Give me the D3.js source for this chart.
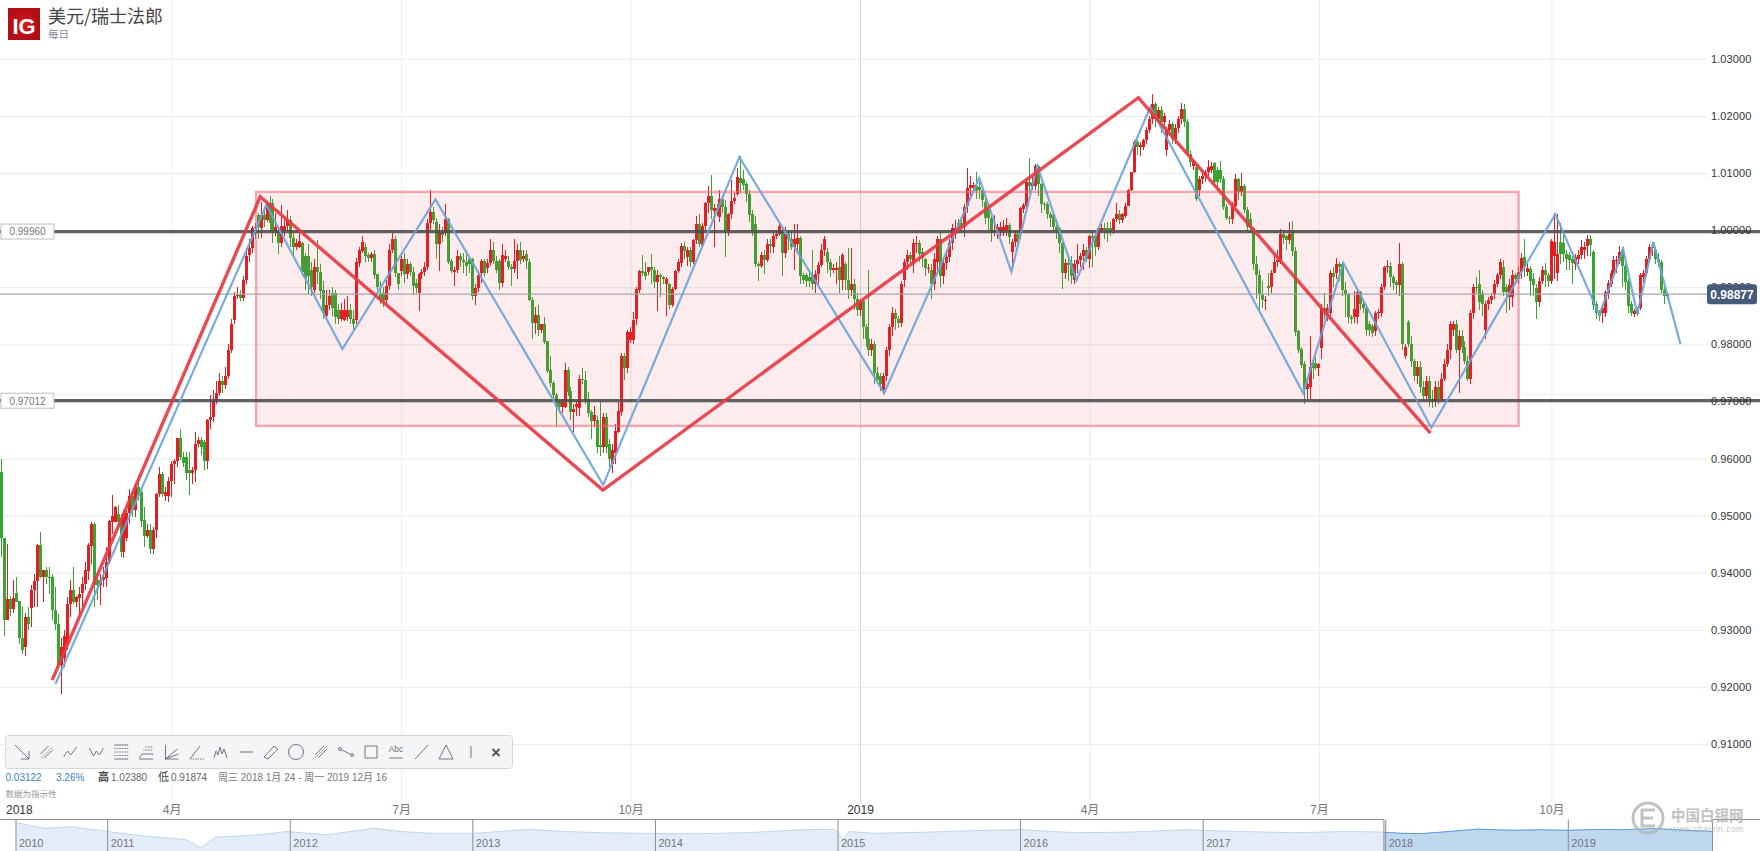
<!DOCTYPE html>
<html>
<head>
<meta charset="utf-8">
<title>美元/瑞士法郎</title>
<script src="https://cdn.jsdelivr.net/npm/d3@7"></script>
<style>
  body { margin: 0; background: #fff; overflow: hidden; }
  text { font-family: "Liberation Sans", "Noto Sans CJK SC", sans-serif; }
  .cjk { font-family: "Noto Sans CJK SC", sans-serif; }
</style>
</head>
<body>
<div id="chart"></div>
<script>
// daily USD/CHF candles, price x 10000 (10 per row)
var opens = [
9577,9461,9317,9354,9337,9364,9350,9285,9270,9322,
9339,9369,9386,9448,9393,9404,9393,9392,9335,9311,
9238,9250,9275,9345,9370,9349,9356,9364,9381,9403,
9447,9485,9387,9378,9387,9391,9419,9489,9489,9502,
9491,9436,9461,9505,9534,9510,9550,9541,9492,9465,
9474,9442,9475,9538,9572,9535,9535,9560,9590,9596,
9636,9603,9603,9579,9574,9579,9626,9633,9629,9596,
9667,9672,9702,9715,9735,9728,9745,9790,9843,9884,
9886,9881,9913,9956,9968,10003,10027,10003,10027,10018,
10047,10047,9999,10000,9977,10001,10007,10018,9986,9970,
9971,9977,9955,9955,9930,9895,9935,9927,9895,9850,
9869,9889,9889,9860,9845,9843,9848,9860,9845,9843,
9942,9964,9970,9956,9952,9958,9923,9889,9889,9877,
9902,9965,9984,9924,9929,9950,9923,9941,9927,9907,
9889,9923,9927,9935,10012,10031,10015,9976,9996,9995,
10019,9946,9927,9930,9955,9948,9945,9949,9949,9885,
9898,9924,9946,9934,9943,9965,9946,9946,9908,9950,
9946,9936,9932,9946,9965,9950,9959,9945,9878,9837,
9851,9825,9836,9806,9755,9733,9711,9699,9690,9690,
9755,9718,9682,9690,9689,9740,9738,9705,9681,9666,
9667,9623,9620,9673,9625,9590,9610,9647,9682,9779,
9759,9807,9808,9844,9895,9928,9927,9927,9935,9930,
9909,9921,9918,9906,9906,9868,9896,9928,9943,9972,
9953,9966,9944,9983,10010,9974,10007,10048,10059,10033,
10039,10023,10054,10041,9998,10028,10051,10064,10091,10090,
10080,10063,10029,10011,9940,9937,9956,9947,9976,9970,
9989,9994,10000,9960,9993,9984,9971,9975,9986,9922,
9922,9918,9921,9905,9923,9939,9966,9962,9945,9930,
9930,9936,9913,9941,9913,9895,9905,9880,9860,9875,
9830,9810,9790,9800,9750,9745,9720,9745,9790,9830,
9855,9845,9838,9913,9945,9956,9942,9975,9978,9962,
9949,9933,9930,9905,9945,9984,9920,9942,9953,9977,
9993,10012,10012,10005,10042,10073,10073,10077,10075,10070,
10050,10038,10021,9997,9997,9999,9998,10000,10009,9961,
9980,9993,9993,10037,10042,10085,10077,10077,10112,10080,
10046,10046,10029,10026,10005,10003,9977,9925,9942,9942,
9912,9941,9948,9954,9965,9950,9989,9989,9971,10001,
10003,10003,10003,10000,10020,10029,10017,10024,10042,10070,
10101,10155,10146,10146,10157,10175,10195,10220,10195,10210,
10190,10140,10175,10185,10160,10178,10195,10212,10190,10134,
10112,10110,10070,10090,10095,10102,10105,10118,10106,10106,
10090,10041,10022,10020,10042,10089,10067,10077,10036,10020,
10003,9941,9921,9888,9877,9902,9900,9925,9944,9944,
9993,9990,9982,9997,9964,9823,9791,9766,9722,9725,
9767,9767,9759,9794,9864,9850,9854,9925,9925,9940,
9940,9895,9888,9848,9848,9848,9892,9870,9864,9836,
9832,9824,9854,9855,9900,9935,9938,9918,9909,9904,
9940,9780,9839,9800,9770,9745,9760,9725,9710,9735,
9705,9700,9725,9705,9740,9765,9790,9825,9835,9790,
9815,9795,9770,9740,9854,9901,9906,9889,9825,9871,
9877,9886,9905,9921,9935,9901,9883,9883,9921,9915,
9927,9953,9927,9931,9915,9898,9874,9911,9930,9921,
9911,9954,9924,9979,9977,9959,9956,9950,9940,9950,
9956,9966,9972,9985,9962,9871,9857,9854,9854,9890,
9906,9924,9946,9946,9965,9937,9911,9870,9853,9860,
9864,9918,9924,9950,9968,9966,9950,9944,9895,9885
];
var closes = [
9461,9317,9354,9337,9355,9349,9285,9265,9322,9310,
9369,9385,9448,9393,9404,9393,9390,9334,9311,9238,
9270,9290,9346,9370,9349,9357,9362,9381,9404,9448,
9485,9378,9378,9387,9393,9419,9490,9500,9515,9489,
9436,9505,9505,9534,9509,9550,9536,9491,9465,9474,
9442,9475,9538,9572,9537,9541,9560,9590,9596,9636,
9603,9592,9575,9575,9579,9626,9633,9621,9596,9667,
9672,9702,9715,9735,9728,9745,9790,9835,9884,9887,
9881,9913,9954,9968,10003,10006,10006,10027,10018,10047,
10012,9999,10006,9977,10007,10007,10019,9986,9970,9977,
9981,9927,9916,9919,9901,9935,9927,9894,9854,9869,
9884,9863,9848,9845,9860,9860,9860,9845,9835,9945,
9965,9980,9954,9952,9958,9922,9901,9878,9875,9902,
9965,9984,9924,9906,9950,9923,9941,9927,9902,9898,
9923,9927,9935,10013,10031,10018,9976,9996,9992,10019,
9945,9929,9930,9955,9948,9945,9938,9940,9885,9898,
9921,9946,9924,9943,9965,9946,9930,9908,9956,9954,
9936,9932,9946,9965,9948,9955,9946,9878,9837,9851,
9825,9836,9804,9753,9732,9711,9690,9690,9699,9755,
9717,9682,9687,9695,9740,9738,9703,9680,9666,9676,
9620,9620,9673,9620,9600,9615,9648,9683,9779,9759,
9822,9822,9842,9896,9928,9924,9920,9935,9930,9909,
9921,9918,9915,9915,9868,9896,9928,9944,9972,9964,
9965,9944,9983,10010,9976,10008,10048,10059,10036,10039,
10032,10054,10041,10000,10028,10051,10056,10093,10083,10079,
10063,10026,10000,9940,9937,9956,9947,9976,9973,9989,
9994,10008,9960,9993,9985,9971,9984,9986,9920,9913,
9911,9910,9905,9923,9939,9966,9984,9945,9930,9934,
9934,9913,9956,9913,9895,9905,9880,9860,9875,9830,
9810,9790,9800,9750,9738,9730,9745,9790,9830,9855,
9845,9838,9905,9945,9956,9950,9978,9978,9958,9951,
9933,9934,9905,9950,9984,9920,9942,9953,9977,10003,
10003,10003,10005,10041,10073,10079,10079,10069,10070,10053,
10021,10021,9997,9999,10006,10006,10005,10009,9988,9980,
9993,9985,10038,10044,10085,10077,10083,10112,10080,10045,
10044,10028,10022,10005,10001,9977,9925,9942,9939,9919,
9941,9948,9954,9965,9950,9989,9986,9971,10004,10004,
10000,10000,9997,10020,10029,10017,10029,10042,10070,10101,
10155,10146,10149,10157,10175,10195,10220,10195,10210,10190,
10200,10175,10185,10160,10178,10195,10212,10190,10134,10120,
10119,10055,10090,10095,10102,10110,10112,10085,10085,10089,
10040,10022,10019,10042,10089,10067,10077,10036,10006,10003,
9941,9921,9886,9877,9878,9898,9925,9944,9947,9993,
9987,9982,9994,9964,9822,9790,9763,9722,9730,9761,
9759,9759,9765,9864,9858,9864,9925,9917,9940,9935,
9895,9886,9847,9845,9862,9892,9870,9864,9825,9825,
9820,9854,9857,9901,9935,9937,9917,9908,9904,9940,
9800,9795,9800,9770,9745,9760,9725,9710,9735,9705,
9700,9725,9705,9740,9765,9790,9835,9835,9790,9815,
9795,9770,9740,9854,9901,9898,9874,9871,9871,9877,
9885,9905,9921,9945,9892,9892,9904,9921,9915,9927,
9952,9936,9933,9911,9903,9874,9911,9930,9921,9911,
9981,9979,9959,9959,9959,9950,9947,9942,9953,9956,
9970,9970,9985,9974,9869,9854,9849,9864,9892,9908,
9924,9947,9948,9962,9937,9909,9867,9855,9859,9853,
9921,9924,9950,9971,9971,9950,9944,9895,9884,9888
];
var highs = [
9600,9461,9450,9360,9387,9393,9350,9340,9330,9340,
9378,9398,9450,9471,9404,9410,9410,9398,9375,9328,
9285,9300,9357,9387,9410,9360,9375,9392,9419,9452,
9489,9489,9398,9398,9410,9445,9492,9536,9516,9518,
9503,9509,9510,9547,9541,9556,9571,9550,9515,9486,
9486,9480,9540,9585,9576,9550,9568,9595,9600,9636,
9652,9612,9612,9612,9585,9647,9638,9638,9632,9670,
9712,9720,9735,9750,9745,9760,9800,9845,9892,9900,
9895,9920,9969,9985,10008,10012,10030,10050,10040,10050,
10060,10055,10030,10005,10044,10020,10035,10025,9995,9985,
9995,9980,9960,9975,9945,9950,9983,9940,9910,9895,
9895,9900,9895,9870,9872,9880,9885,9870,9860,9951,
9971,9990,9978,9960,9962,9965,9920,9910,9900,9912,
9975,9996,9990,9915,9955,9960,9950,9945,9935,9915,
9925,9932,9945,10020,10070,10040,10022,10010,10005,10046,
10022,9950,9935,9965,9960,9960,9958,9950,9952,9905,
9928,9950,9950,9950,9985,9979,9955,9950,9976,9965,
9955,9940,9984,9976,9979,9965,9965,9950,9882,9865,
9868,9835,9847,9780,9780,9735,9715,9700,9705,9768,
9761,9725,9695,9700,9747,9759,9753,9717,9685,9692,
9675,9699,9680,9680,9635,9625,9660,9699,9785,9785,
9825,9830,9856,9900,9930,9956,9945,9935,9958,9935,
9930,9925,9920,9918,9908,9900,9930,9950,9978,9980,
9970,9970,9985,10025,10028,10012,10050,10077,10096,10045,
10045,10070,10060,10052,10030,10087,10065,10108,10129,10105,
10085,10070,10035,10025,9945,9962,9965,9985,9985,9998,
10000,10012,10004,10006,9998,10000,10010,10010,9990,9925,
9925,9930,9966,9930,9945,9975,9990,9968,9950,9940,
9945,9955,9960,9945,9968,9969,9915,9890,9880,9880,
9835,9930,9810,9805,9760,9750,9750,9795,9835,9865,
9862,9850,9910,9950,9965,9962,9985,9990,9982,9968,
9952,9940,9940,9960,9990,9998,9950,9965,9985,10010,
10018,10020,10020,10045,10108,10095,10085,10102,10085,10070,
10055,10040,10025,10026,10010,10015,10018,10021,10012,9985,
9998,10000,10040,10048,10090,10126,10095,10115,10114,10082,
10050,10050,10032,10030,10020,10005,9980,9950,9955,9955,
9948,9975,9960,9975,9970,9992,9995,9992,10006,10010,
10012,10015,10015,10022,10047,10035,10030,10048,10072,10102,
10158,10158,10155,10160,10180,10200,10238,10225,10215,10218,
10205,10180,10192,10190,10185,10200,10222,10220,10195,10140,
10122,10115,10095,10100,10106,10122,10120,10120,10110,10121,
10095,10045,10025,10050,10099,10092,10100,10080,10040,10030,
10005,9955,9930,9910,9885,9925,9930,9960,9965,10002,
9998,9992,10014,10016,9970,9825,9795,9770,9740,9814,
9772,9778,9768,9870,9889,9870,9930,9935,9952,9945,
9945,9909,9890,9852,9894,9895,9894,9875,9866,9840,
9835,9858,9862,9905,9938,9947,9945,9922,9912,9977,
9945,9800,9843,9815,9775,9770,9770,9735,9745,9745,
9720,9735,9735,9750,9775,9800,9840,9840,9842,9825,
9825,9805,9780,9860,9905,9918,9930,9895,9875,9882,
9890,9912,9925,9950,9947,9905,9915,9930,9925,9935,
9960,9984,9940,9938,9925,9905,9918,9938,9942,9925,
9985,10030,10028,10012,9995,9965,9962,9955,9958,9965,
9983,9980,9992,9992,9965,9875,9860,9868,9895,9912,
9930,9955,9955,9972,9970,9940,9915,9875,9862,9865,
9925,9930,9955,9975,9980,9970,9960,9948,9900,9890
];
var lows = [
9428,9290,9317,9325,9330,9349,9275,9258,9254,9300,
9305,9340,9340,9390,9349,9381,9363,9317,9299,9238,
9187,9235,9265,9322,9346,9340,9322,9340,9369,9387,
9416,9340,9352,9343,9375,9375,9416,9468,9492,9477,
9428,9425,9455,9486,9498,9498,9527,9480,9445,9460,
9433,9433,9460,9533,9533,9525,9524,9533,9556,9585,
9597,9585,9562,9536,9556,9559,9620,9606,9580,9582,
9652,9664,9695,9710,9715,9722,9740,9785,9835,9880,
9875,9875,9905,9945,9960,9985,9985,9986,10005,10015,
10000,9977,9990,9958,9970,9990,10000,9970,9955,9965,
9968,9920,9895,9886,9885,9890,9905,9880,9845,9845,
9860,9850,9835,9835,9840,9840,9840,9835,9825,9835,
9935,9960,9945,9945,9945,9915,9895,9870,9865,9870,
9895,9960,9918,9895,9920,9908,9915,9920,9886,9890,
9859,9915,9920,9930,10000,10010,9950,9929,9980,9990,
9940,9925,9902,9925,9935,9925,9920,9925,9878,9869,
9892,9908,9918,9925,9938,9940,9925,9895,9900,9945,
9930,9902,9925,9915,9940,9945,9931,9875,9810,9818,
9815,9820,9800,9750,9725,9700,9655,9680,9680,9688,
9710,9667,9647,9675,9675,9730,9695,9672,9635,9655,
9610,9605,9610,9610,9585,9575,9590,9645,9675,9737,
9750,9802,9800,9833,9890,9920,9912,9921,9905,9898,
9858,9883,9905,9850,9862,9865,9895,9925,9935,9950,
9938,9935,9940,9975,9970,9970,10000,10030,10020,9971,
10025,10015,10030,9953,9989,10020,10045,10060,10065,10070,
10050,10015,9990,9935,9911,9934,9923,9945,9960,9960,
9985,9990,9920,9951,9965,9965,9930,9960,9905,9905,
9900,9900,9895,9890,9905,9935,9955,9925,9918,9925,
9905,9890,9895,9895,9880,9885,9860,9850,9850,9810,
9795,9780,9780,9730,9730,9718,9713,9735,9780,9815,
9825,9828,9830,9900,9930,9940,9925,9960,9945,9935,
9920,9924,9880,9895,9925,9900,9905,9930,9945,9965,
9985,9995,9995,9988,10030,10060,10065,10055,10055,10040,
10010,10000,9980,9990,9985,9990,9990,9990,9975,9930,
9970,9975,9985,10030,10035,10065,10070,10070,10060,10030,
10035,10020,10005,9995,9985,9960,9896,9915,9910,9905,
9906,9925,9935,9930,9945,9933,9935,9954,9965,9995,
9985,9979,9990,9993,10015,10010,10012,10022,10065,10068,
10100,10131,10130,10140,10150,10170,10185,10180,10185,10170,
10175,10130,10165,10150,10150,10170,10185,10180,10130,10110,
10105,10051,10060,10080,10085,10095,10100,10075,10075,10082,
10036,10018,10010,10011,10040,10052,10060,10030,9998,9995,
9930,9880,9860,9863,9860,9884,9890,9925,9935,9940,
9975,9965,9975,9955,9815,9785,9758,9696,9705,9705,
9740,9755,9745,9775,9845,9840,9845,9900,9915,9910,
9885,9848,9838,9835,9838,9835,9860,9855,9815,9815,
9812,9815,9845,9848,9895,9925,9900,9895,9888,9884,
9790,9775,9795,9760,9735,9730,9715,9700,9700,9690,
9688,9690,9695,9700,9735,9760,9775,9815,9785,9715,
9785,9765,9735,9730,9845,9890,9860,9850,9810,9860,
9870,9880,9900,9915,9885,9855,9860,9865,9905,9905,
9915,9918,9920,9885,9885,9845,9865,9905,9900,9900,
9905,9915,9910,9940,9945,9930,9930,9905,9930,9940,
9950,9950,9955,9955,9860,9845,9840,9838,9848,9880,
9900,9920,9925,9940,9900,9895,9855,9850,9848,9850,
9860,9905,9920,9945,9955,9940,9935,9890,9870,9880
];

// drawn zigzags, [candle index, price]
var redIdx = [16.9, 86.7, 201.7, 381.4, 479.4];
var redPrice = [0.9212, 1.00583, 0.95447, 1.02319, 0.96445];
var blueIdx = [18, 88.8, 114.3, 145.5, 201.8, 247.5, 296.1, 328, 338.8, 347.5, 360.6, 385.4, 436.7, 450.2, 479.7, 521.3, 536.1, 544.1, 548.8, 554.2, 563.3];
var bluePrice = [0.9205, 1.00438, 0.97916, 1.00538, 0.95534, 1.01278, 0.97145, 1.00911, 0.9927, 1.01126, 0.99124, 1.02154, 0.97145, 0.99422, 0.96539, 1.0028, 0.98511, 0.99667, 0.98529, 0.9979, 0.98003];

// shaded range box and horizontal levels
var boxIdx = [85.3, 509];
var boxPrice = [1.0067, 0.9657];
var levelValues = [0.99975, 0.97012];
var levelLabels = ["0.99960", "0.97012"];
var lastPrice = 0.98877;

var priceTicks = [0.91, 0.92, 0.93, 0.94, 0.95, 0.96, 0.97, 0.98, 0.99, 1.00, 1.01, 1.02, 1.03];
var monthIdx = [57, 134, 211, 288, 365, 442, 520];
var monthLabels = ["4月", "7月", "10月", "2019", "4月", "7月", "10月"];

// navigator strip, decimal year and price
var navYears = [2010.5, 2010.58, 2010.66, 2010.8, 2010.9, 2011, 2011.1, 2011.22, 2011.33, 2011.43, 2011.51, 2011.59, 2011.73, 2011.85, 2011.98, 2012.2, 2012.33, 2012.46, 2012.6, 2012.77, 2013, 2013.15, 2013.3, 2013.5, 2013.7, 2013.9, 2014.2, 2014.5, 2014.8, 2014.98, 2015.03, 2015.06, 2015.2, 2015.5, 2015.8, 2016, 2016.3, 2016.6, 2016.9, 2017.2, 2017.5, 2017.8, 2017.98, 2018.08, 2018.2, 2018.35, 2018.5, 2018.7, 2018.85, 2019, 2019.15, 2019.3, 2019.48, 2019.65, 2019.79];
var navPrices = [1.15, 1.10, 1.055, 1.083, 1.04, 1.0, 0.96, 0.915, 0.89, 0.86, 0.72, 0.905, 0.925, 0.95, 1.0, 0.945, 1.0, 1.055, 1.0, 0.97, 0.97, 1.0, 1.04, 1.0, 0.98, 0.97, 0.96, 0.98, 1.03, 1.04, 0.87, 1.0, 0.97, 0.99, 1.02, 1.03, 0.98, 0.99, 1.03, 1.0, 0.98, 1.0, 0.99, 0.97, 0.965, 1.0, 1.04, 1.02, 1.03, 1.02, 1.035, 1.03, 1.05, 1.02, 1.0];
var navDividers = [2011, 2012, 2013, 2014, 2015, 2016, 2017, 2018, 2019];
var navSelected = [2017.99, 2019.79];

var width = 1760, height = 851;

var svg = d3.select("#chart").append("svg")
    .attr("width", width)
    .attr("height", height)
    .style("display", "block");

var x = d3.scaleLinear().domain([0, 560]).range([1.8, 1.8 + 560 * 2.98]);
var y = d3.scaleLinear().domain([0.91, 1.03]).range([744, 58.8]);

// grid, the 2019 line is a bit darker
var gridX = svg.append("g").attr("transform", "translate(0,802)")
    .call(d3.axisBottom(x).tickValues(monthIdx).tickSize(-802).tickFormat(""));
gridX.select(".domain").remove();
gridX.selectAll("line").attr("stroke", function(d) { return d == 288 ? "#d9d9d9" : "#ededed"; });

var gridY = svg.append("g")
    .call(d3.axisRight(y).tickValues(priceTicks).tickSize(1708).tickFormat(""));
gridY.select(".domain").remove();
gridY.selectAll("line").attr("stroke", "#ebebeb");

// candles, red goes up, green goes down
var candles = svg.append("g").attr("shape-rendering", "crispEdges");
var idx = d3.range(closes.length);
function candleColor(i) { return closes[i] >= opens[i] ? "#e41d21" : "#38a532"; }

candles.selectAll("line").data(idx).join("line")
    .attr("x1", function(i) { return x(i); })
    .attr("x2", function(i) { return x(i); })
    .attr("y1", function(i) { return y(highs[i] / 10000); })
    .attr("y2", function(i) { return y(lows[i] / 10000); })
    .attr("stroke", candleColor)
    .attr("stroke-width", 1);

candles.selectAll("rect").data(idx).join("rect")
    .attr("x", function(i) { return x(i) - 1.5; })
    .attr("width", 3)
    .attr("y", function(i) { return y(Math.max(opens[i], closes[i]) / 10000); })
    .attr("height", function(i) { return Math.max(1, Math.abs(y(opens[i] / 10000) - y(closes[i] / 10000))); })
    .attr("fill", candleColor);

// range box sits above the candles
svg.append("rect")
    .attr("x", x(boxIdx[0]))
    .attr("y", y(boxPrice[0]))
    .attr("width", x(boxIdx[1]) - x(boxIdx[0]))
    .attr("height", y(boxPrice[1]) - y(boxPrice[0]))
    .attr("fill", "#e64650")
    .attr("fill-opacity", 0.1)
    .attr("stroke", "#ee6670")
    .attr("stroke-opacity", 0.55)
    .attr("stroke-width", 2.4);

// last price line
svg.append("line")
    .attr("x1", 0).attr("x2", 1707)
    .attr("y1", y(lastPrice)).attr("y2", y(lastPrice))
    .attr("stroke", "#a5a5ab")
    .attr("stroke-width", 1.2);

// the two levels
svg.selectAll(".level").data(levelValues).join("line")
    .attr("class", "level")
    .attr("x1", 0).attr("x2", width)
    .attr("y1", function(d) { return y(d); })
    .attr("y2", function(d) { return y(d); })
    .attr("stroke", "#4d4a4c")
    .attr("stroke-opacity", 0.88)
    .attr("stroke-width", 3.2);

var levelTag = svg.selectAll(".tag").data(levelValues).join("g")
    .attr("class", "tag")
    .attr("transform", function(d) { return "translate(1," + y(d) + ")"; });
levelTag.append("rect")
    .attr("y", -7.5).attr("width", 53).attr("height", 15)
    .attr("fill", "#fff").attr("stroke", "#bdbdc2");
levelTag.append("text")
    .attr("x", 26.5).attr("y", 3.8)
    .attr("text-anchor", "middle")
    .attr("font-size", 10)
    .attr("fill", "#777")
    .text(function(d, i) { return levelLabels[i]; });

// zigzags
var zigzag = d3.line()
    .x(function(d) { return x(d[0]); })
    .y(function(d) { return y(d[1]); });

svg.append("path")
    .attr("d", zigzag(d3.zip(blueIdx, bluePrice)))
    .attr("fill", "none")
    .attr("stroke", "#6aa3d8")
    .attr("stroke-opacity", 0.9)
    .attr("stroke-width", 2.2);

svg.append("path")
    .attr("d", zigzag(d3.zip(redIdx, redPrice)))
    .attr("fill", "none")
    .attr("stroke", "#e63b44")
    .attr("stroke-opacity", 0.92)
    .attr("stroke-width", 3.4);

// price axis
var yAxis = svg.append("g").attr("transform", "translate(1702,0)")
    .call(d3.axisRight(y).tickValues(priceTicks).tickSize(0).tickPadding(9).tickFormat(d3.format(".5f")));
yAxis.select(".domain").remove();
yAxis.selectAll("text").attr("font-size", 11).attr("fill", "#333").attr("letter-spacing", 0.1);

svg.append("rect")
    .attr("x", 1707).attr("y", y(lastPrice) - 10)
    .attr("width", 50).attr("height", 20).attr("rx", 3)
    .attr("fill", "#465a7a");
svg.append("text")
    .attr("x", 1732).attr("y", y(lastPrice) + 4.3)
    .attr("text-anchor", "middle")
    .attr("font-size", 12).attr("font-weight", "bold").attr("fill", "#fff")
    .text(d3.format(".5f")(lastPrice));

// date axis
var xAxis = svg.append("g").attr("transform", "translate(0,802)")
    .call(d3.axisBottom(x).tickValues(monthIdx).tickSize(0).tickPadding(3)
        .tickFormat(function(d, i) { return monthLabels[i]; }));
xAxis.select(".domain").remove();
xAxis.selectAll("text")
    .attr("font-size", 12)
    .attr("fill", function(d) { return d == 288 ? "#333" : "#777"; });
svg.append("text").attr("x", 6).attr("y", 814).attr("font-size", 12).attr("fill", "#333").text("2018");

// header
var logoGrad = svg.append("defs").append("radialGradient").attr("id", "logoRed");
logoGrad.append("stop").attr("offset", "0%").attr("stop-color", "#e0141c");
logoGrad.append("stop").attr("offset", "100%").attr("stop-color", "#ae0e16");
svg.append("rect").attr("x", 8).attr("y", 8).attr("width", 32).attr("height", 32).attr("fill", "url(#logoRed)");
svg.append("text").attr("x", 24).attr("y", 34).attr("text-anchor", "middle")
    .attr("font-size", 22).attr("fill", "#fff").attr("font-weight", "bold").text("IG");
svg.append("text").attr("class", "cjk").attr("x", 48).attr("y", 23)
    .attr("font-size", 18).attr("fill", "#444").text("美元/瑞士法郎");
svg.append("text").attr("class", "cjk").attr("x", 48).attr("y", 38)
    .attr("font-size", 10.5).attr("fill", "#8a8a96").text("每日");

// drawing toolbar, second list holds the dashed strokes of each icon
var toolPaths = [
    "M-7,-7L7,7M7,-1V7H-1",
    "M-6,2L2,-6M-2,6L6,-2",
    "M-7,5L-3,-1L0,3L6,-5",
    "M-7,-4L-3,4L0,-1L3,3L7,-4",
    "M-7,-7H7M-7,7H7",
    "M-7,6L-4,2H7M-7,7H7",
    "M-6,-7V7H7M-6,7L6,-3M-6,7L7,2",
    "M-7,7L3,-6",
    "M-7,6L-5,-1L-3,3L-1,-5L1,2L3,-3L6,6",
    "M-6,0H7",
    "M-7,5L3,-6L7,-3L-3,7Z",
    "",
    "M-6,3L3,-6M-3,6L6,-3",
    "M-6,-3L6,3",
    "M-6,-6H6V6H-6Z",
    "M-7,6H7",
    "M-6,7L7,-7",
    "M0,-7L7,7H-7Z",
    "M0,-6V6",
    ""
];
var toolDashes = ["", "M-5,6L6,-5", "", "", "M-7,-3.5H7M-7,0H7M-7,3.5H7", "M-3,-2H7M-1,-5H7", "", "M-7,7H7", "", "", "", "", "M-6,6L6,-6", "", "", "", "", "", "", ""];
var toolX = [22, 46.5, 70.6, 96.4, 121.2, 146.3, 171.5, 197, 221, 246, 271, 296, 321, 346, 371, 396, 421, 446, 471, 496];
var toolbar = svg.append("g");
toolbar.append("rect")
    .attr("x", 5.5).attr("y", 735.5).attr("width", 507).attr("height", 33).attr("rx", 3)
    .attr("fill", "#f4f5f7").attr("stroke", "#d6d8dc");
var tools = toolbar.selectAll("g").data(toolPaths).join("g")
    .attr("transform", function(d, i) { return "translate(" + toolX[i] + ",752)"; });
tools.append("path").attr("d", function(d) { return d; })
    .attr("fill", "none").attr("stroke", "#73747f").attr("stroke-width", 1);
tools.append("path").attr("d", function(d, i) { return toolDashes[i]; })
    .attr("fill", "none").attr("stroke", "#73747f").attr("stroke-width", 1).attr("stroke-dasharray", "1.5 1");
toolbar.append("circle").attr("cx", 296).attr("cy", 752).attr("r", 7.5)
    .attr("fill", "none").attr("stroke", "#73747f");
toolbar.append("text").attr("x", 396).attr("y", 752).attr("text-anchor", "middle")
    .attr("font-size", 8.5).attr("fill", "#73747f").text("Abc");
toolbar.append("circle").attr("cx", 340).attr("cy", 749).attr("r", 1.5).attr("fill", "#f4f5f7").attr("stroke", "#73747f");
toolbar.append("circle").attr("cx", 352).attr("cy", 755).attr("r", 1.5).attr("fill", "#f4f5f7").attr("stroke", "#73747f");
toolbar.append("path").attr("d", "M492.5,749L499.5,756M499.5,749L492.5,756")
    .attr("stroke", "#555562").attr("stroke-width", 2);

// info rows
var infoX = [5.5, 56, 111, 171, 218];
var infoText = ["0.03122", "3.26%", "1.02380", "0.91874", "周三 2018 1月 24 - 周一 2019 12月 16"];
var infoFill = ["#3a7fc0", "#3a7fc0", "#666", "#666", "#777"];
svg.selectAll(".info").data(infoText).join("text")
    .attr("class", "info")
    .attr("x", function(d, i) { return infoX[i]; })
    .attr("y", 781)
    .attr("font-size", 10)
    .attr("fill", function(d, i) { return infoFill[i]; })
    .text(function(d) { return d; });
svg.append("text").attr("class", "cjk").attr("x", 98).attr("y", 781).attr("font-size", 11).attr("font-weight", "bold").attr("fill", "#444").text("高");
svg.append("text").attr("class", "cjk").attr("x", 158).attr("y", 781).attr("font-size", 11).attr("fill", "#444").text("低");
svg.append("text").attr("class", "cjk").attr("x", 5.5).attr("y", 797).attr("font-size", 8.5).attr("fill", "#999").text("数据为指示性");

// navigator
var navX = d3.scaleLinear().domain([2011, 2019]).range([107.7, 1568.3]);
var navY = d3.scaleLinear().domain([0.72, 1.15]).range([848, 822.7]);
var navTop = 819.5;
var navPoints = d3.zip(navYears, navPrices);
var navArea = d3.area()
    .x(function(d) { return navX(d[0]); })
    .y0(height)
    .y1(function(d) { return navY(d[1]); });
var navLine = d3.line()
    .x(function(d) { return navX(d[0]); })
    .y(function(d) { return navY(d[1]); });

svg.append("clipPath").attr("id", "navSel").append("rect")
    .attr("x", navX(navSelected[0])).attr("y", navTop)
    .attr("width", navX(navSelected[1]) - navX(navSelected[0])).attr("height", height - navTop);

svg.append("path").attr("d", navArea(navPoints)).attr("fill", "#e4edf7");
svg.append("path").attr("d", navLine(navPoints)).attr("fill", "none").attr("stroke", "#bdd6ee");
svg.append("path").attr("d", navArea(navPoints)).attr("fill", "#c0d8ee").attr("clip-path", "url(#navSel)");
svg.append("path").attr("d", navLine(navPoints)).attr("fill", "none").attr("stroke", "#5b9bd8").attr("clip-path", "url(#navSel)");

svg.append("path")
    .attr("d", "M0," + navTop + "H" + navX(navSelected[0]) + "V" + height + "M" + navX(navSelected[1]) + "," + height + "V" + navTop + "H" + width)
    .attr("fill", "none").attr("stroke", "#8a8a96");
svg.append("line").attr("x1", 16).attr("x2", 16).attr("y1", navTop).attr("y2", height).attr("stroke", "#8a8a96");

var navYear = svg.selectAll(".navyear").data(navDividers).join("g")
    .attr("class", "navyear")
    .attr("transform", function(d) { return "translate(" + navX(d) + ",0)"; });
navYear.append("line").attr("y1", navTop).attr("y2", height).attr("stroke", "#8a8a96");
navYear.append("text").attr("x", 3).attr("y", 847).attr("font-size", 11).attr("fill", "#74747f")
    .text(function(d) { return d; });
svg.append("text").attr("x", 19).attr("y", 847).attr("font-size", 11).attr("fill", "#74747f").text("2010");

// watermark
var mark = svg.append("g").attr("opacity", 0.8);
mark.append("circle").attr("cx", 1648).attr("cy", 818).attr("r", 15)
    .attr("fill", "none").attr("stroke", "#b4b4b4").attr("stroke-width", 3);
mark.append("path").attr("d", "M1655,810H1642V826H1655M1642,818H1653")
    .attr("fill", "none").attr("stroke", "#b4b4b4").attr("stroke-width", 3);
mark.append("text").attr("class", "cjk").attr("x", 1671).attr("y", 821)
    .attr("font-size", 14.5).attr("font-weight", "bold").attr("fill", "#b4b4b4").text("中国白银网");
mark.append("text").attr("x", 1671).attr("y", 832)
    .attr("font-size", 8.5).attr("fill", "#b4b4b4").attr("letter-spacing", 0.5).text("www.cbaiyin.com");
</script>
</body>
</html>
